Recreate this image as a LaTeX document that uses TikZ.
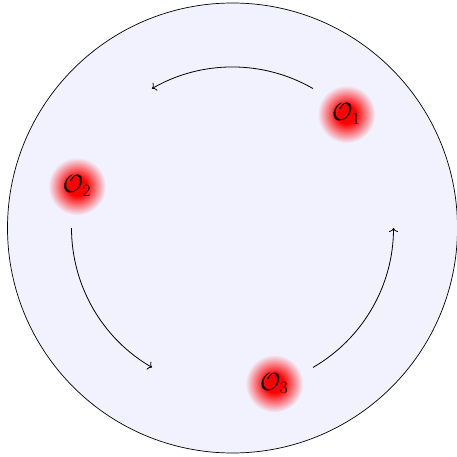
\documentclass[tikz,border=0pt]{standalone}
\usetikzlibrary{arrows.meta}
\pgfdeclareradialshading{orbshade}{\pgfpoint{0bp}{0bp}}{color(0bp)=(red); color(8bp)=(red); color(25bp)=(blue!5); color(50bp)=(blue!5)}
\begin{document}
\begin{tikzpicture}[x=1pt,y=1pt,
  orb/.style={circle, minimum size=58pt, inner sep=0pt, shading=orbshade, font=\fontsize{25}{30}\selectfont},
  flow/.style={-{To[length=4pt,width=9pt]}, line width=0.8pt}]
\useasboundingbox (0,0) rectangle (457,456);
\coordinate (c) at (232.5,228);
\node[circle, draw, fill=blue!5, minimum size=450pt, inner sep=0pt, line width=0.7pt] (disk) at (c) {};
\node[orb] (o1) at ([shift={(45:161)}]c) {$\mathcal{O}_1$};
\node[orb] (o2) at ([shift={(165:161)}]c) {$\mathcal{O}_2$};
\node[orb] (o3) at ([shift={(285:161)}]c) {$\mathcal{O}_3$};
\coordinate (a1) at ([shift={(60:161)}]c);
\coordinate (a2) at ([shift={(180:161)}]c);
\coordinate (a3) at ([shift={(300:161)}]c);
\draw[flow] (a1) arc[start angle=60, end angle=120, radius=161];
\draw[flow] (a2) arc[start angle=180, end angle=240, radius=161];
\draw[flow] (a3) arc[start angle=300, end angle=360, radius=161];
\end{tikzpicture}
\end{document}
